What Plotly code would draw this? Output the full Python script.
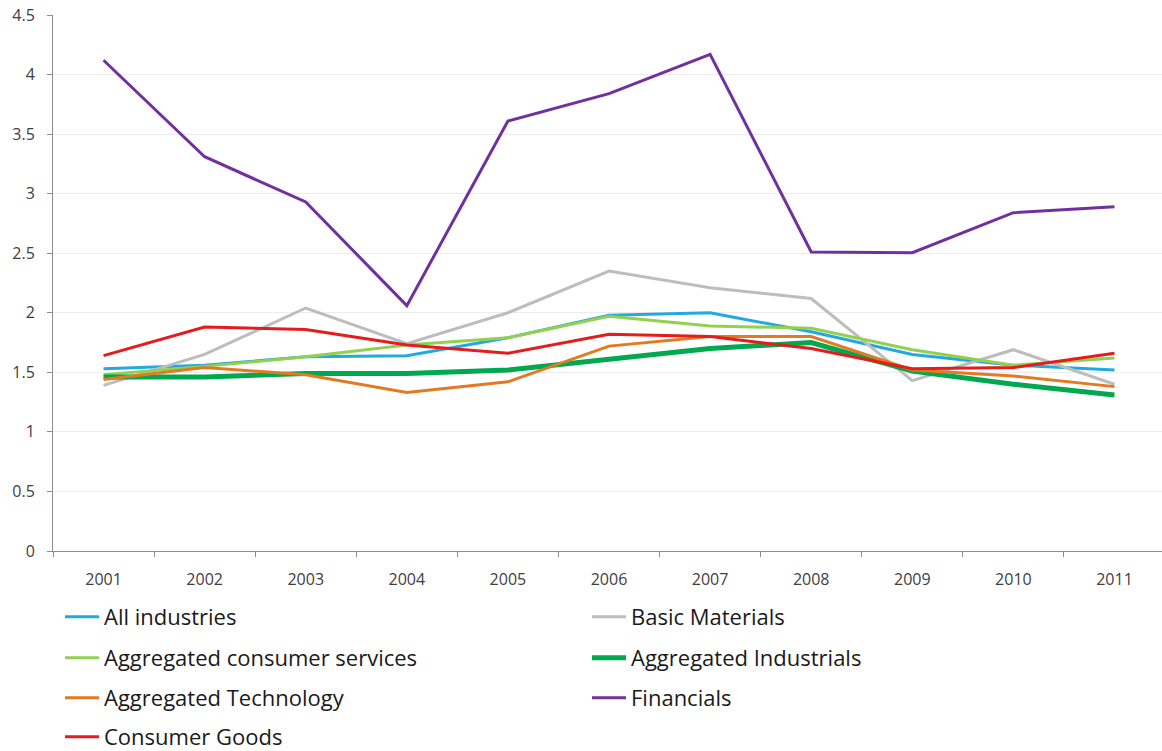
import plotly.graph_objects as go

years = ["2001", "2002", "2003", "2004", "2005", "2006", "2007", "2008", "2009", "2010", "2011"]

all_industries = [1.53, 1.56, 1.63, 1.64, 1.79, 1.98, 2.00, 1.84, 1.65, 1.56, 1.52]
basic_materials = [1.39, 1.65, 2.04, 1.74, 2.00, 2.35, 2.21, 2.12, 1.43, 1.69, 1.40]
consumer_services = [1.48, 1.55, 1.63, 1.73, 1.79, 1.97, 1.89, 1.87, 1.69, 1.56, 1.62]
industrials = [1.46, 1.46, 1.49, 1.49, 1.52, 1.61, 1.70, 1.75, 1.51, 1.40, 1.31]
technology = [1.44, 1.54, 1.48, 1.33, 1.42, 1.72, 1.80, 1.80, 1.52, 1.47, 1.38]
financials = [4.12, 3.31, 2.93, 2.06, 3.61, 3.84, 4.17, 2.51, 2.505, 2.84, 2.89]
consumer_goods = [1.64, 1.88, 1.86, 1.73, 1.66, 1.82, 1.80, 1.70, 1.53, 1.54, 1.66]

y_ticks = [0, 0.5, 1, 1.5, 2, 2.5, 3, 3.5, 4, 4.5]
y_tick_text = ["0", "0.5", "1", "1.5", "2", "2.5", "3", "3.5", "4", "4.5"]

# (name, values, colour, width, legend id) — legends laid out as rows of two
series = [
    ("All industries", all_industries, "#22a9e1", 3, "legend"),
    ("Basic Materials", basic_materials, "#bdbdbd", 3, "legend"),
    ("Aggregated consumer services", consumer_services, "#92d050", 3, "legend2"),
    ("Aggregated Industrials", industrials, "#00a84f", 5, "legend2"),
    ("Aggregated Technology", technology, "#e27a22", 3, "legend3"),
    ("Financials", financials, "#7030a0", 3, "legend3"),
    ("Consumer Goods", consumer_goods, "#e51c1c", 3, "legend4"),
]

fig = go.Figure()
for name, vals, color, width, leg in series:
    fig.add_trace(go.Scatter(
        x=years, y=vals, mode="lines", name=name,
        line=dict(color=color, width=width),
        legend=leg,
    ))

tick_font = dict(family="Open Sans, Arial", size=16, color="#404040")
legend_font = dict(family="Open Sans, Arial", size=22, color="#1a1a1a")

fig.update_layout(
    width=1162, height=751,
    margin=dict(l=53, r=0, t=15, b=200, autoexpand=False),
    paper_bgcolor="white", plot_bgcolor="white",
    showlegend=True,
    xaxis=dict(
        type="category", range=[-0.5, 10.47],
        showline=True, linecolor="#8c8c8c", linewidth=1,
        ticks="outside", ticklen=5, tickcolor="#8c8c8c", tickson="boundaries",
        showgrid=False, tickfont=tick_font, ticklabelstandoff=14,
    ),
    yaxis=dict(
        range=[0, 4.5], tickvals=y_ticks, ticktext=y_tick_text,
        showline=True, linecolor="#8c8c8c", linewidth=1,
        ticks="outside", ticklen=5, tickcolor="#8c8c8c",
        showgrid=True, gridcolor="#ececec", gridwidth=1,
        zeroline=False, tickfont=tick_font, ticklabelstandoff=9,
    ),
)

leg_common = dict(
    orientation="h", xanchor="left", yanchor="middle",
    entrywidth=478, entrywidthmode="pixels",
    font=legend_font, bgcolor="rgba(0,0,0,0)", itemwidth=34,
    x=7 / 1109,
)
row_y = [617, 658, 698, 737]
plot_top, plot_h = 15, 536
def paper_y(py):
    return 1 - (py - plot_top) / plot_h

fig.update_layout(
    legend=dict(leg_common, y=paper_y(row_y[0])),
    legend2=dict(leg_common, y=paper_y(row_y[1])),
    legend3=dict(leg_common, y=paper_y(row_y[2])),
    legend4=dict(leg_common, y=paper_y(row_y[3])),
)

fig.write_html("out.html")
